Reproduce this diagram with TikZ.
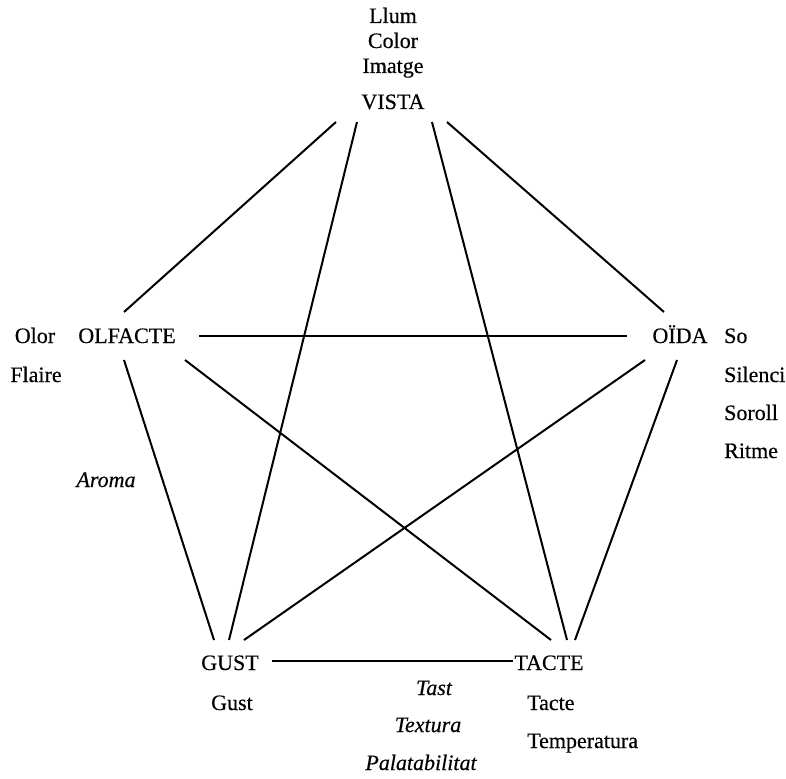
\documentclass[tikz,border=0pt]{standalone}
\usepackage{fontspec}
\setmainfont{Liberation Serif}[UprightFeatures={FakeBold=0.4},ItalicFeatures={FakeBold=0.4}]
\begin{document}
\begin{tikzpicture}[x=1pt,y=-1pt,
  lbl/.style={anchor=base,inner sep=0pt,font=\fontsize{22}{26}\selectfont},
  itl/.style={lbl,font=\fontsize{22}{26}\selectfont\itshape},
  conn/.style={line width=2pt}]
\useasboundingbox (0,0) rectangle (786,778);
% main nodes
\node[lbl] (vista) at (393,109) {VISTA};
\node[lbl] (olf) at (127,343) {OLFACTE};
\node[lbl] (oida) at (680,343) {OÏDA};
\node[lbl] (gust) at (230,670) {GUST};
\node[lbl] (tacte) at (549,670) {TACTE};
% labels
\node[lbl] (llum) at (393,23) {Llum};
\node[lbl] (color) at (393,48) {Color};
\node[lbl] (imatge) at (393,73) {Imatge};
\node[lbl] (olor) at (35,343) {Olor};
\node[lbl] (flaire) at (36,382) {Flaire};
\node[lbl,anchor=base west] (so) at (724,343) {So};
\node[lbl,anchor=base west] (silenci) at (724,382) {Silenci};
\node[lbl,anchor=base west] (soroll) at (724,420) {Soroll};
\node[lbl,anchor=base west] (ritme) at (724,458) {Ritme};
\node[lbl] (gustl) at (232,710) {Gust};
\node[lbl,anchor=base west] (tactel) at (527,710) {Tacte};
\node[lbl,anchor=base west] (temp) at (527,748) {Temperatura};
\node[itl] (tast) at (434,695) {Tast};
\node[itl] (textura) at (428,732) {Textura};
\node[itl] (palat) at (421,770) {Palatabilitat};
\node[itl] (aroma) at (106,487) {Aroma};
% connectors
\draw[conn] ([shift={(-57,13)}]vista.base) -- ([shift={(-3,-31)}]olf.base);
\draw[conn] ([shift={(-36,13)}]vista.base) -- ([shift={(-1,-30)}]gust.base);
\draw[conn] ([shift={(39,13)}]vista.base) -- ([shift={(18,-30)}]tacte.base);
\draw[conn] ([shift={(54,13)}]vista.base) -- ([shift={(-16,-31)}]oida.base);
\draw[conn] ([shift={(72,-7)}]olf.base) -- ([shift={(-53,-7)}]oida.base);
\draw[conn] ([shift={(-3,17)}]olf.base) -- ([shift={(-16,-30)}]gust.base);
\draw[conn] ([shift={(58,17)}]olf.base) -- ([shift={(2,-30)}]tacte.base);
\draw[conn] ([shift={(-35,17)}]oida.base) -- ([shift={(14,-30)}]gust.base);
\draw[conn] ([shift={(-3,17)}]oida.base) -- ([shift={(26,-30)}]tacte.base);
\draw[conn] ([shift={(42,-9)}]gust.base) -- ([shift={(-36,-9)}]tacte.base);
\end{tikzpicture}
\end{document}
